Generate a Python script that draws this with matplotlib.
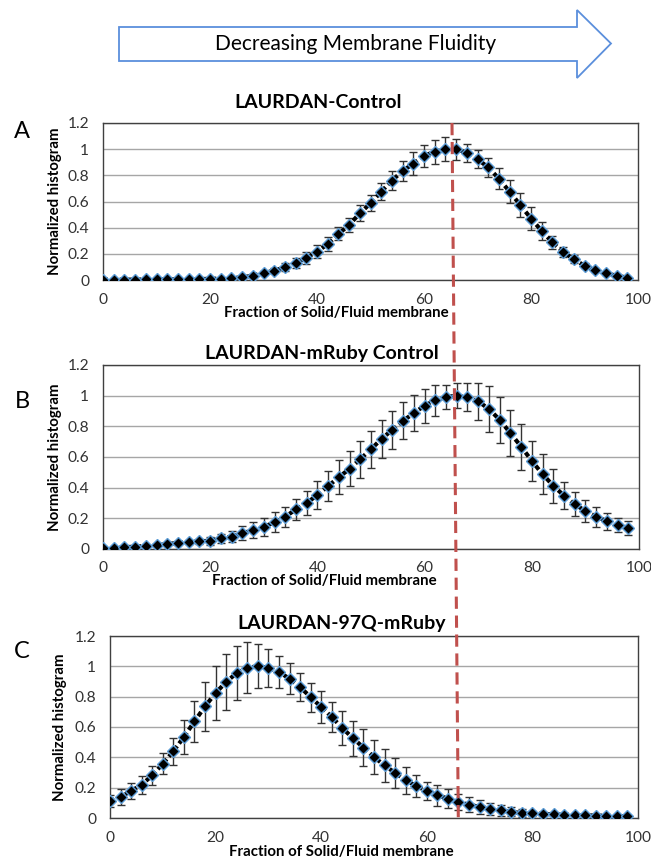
import matplotlib
matplotlib.use("Agg")
import matplotlib.pyplot as plt
from matplotlib.patches import Polygon
from matplotlib.lines import Line2D

plt.rcParams['font.family'] = ['Lato', 'DejaVu Sans']

# x positions (fraction of solid/fluid membrane)
fraction = list(range(0, 100, 2))

# A: LAURDAN-Control
control = [0.003, 0.003, 0.003, 0.003, 0.004, 0.004, 0.005, 0.005, 0.006, 0.007,
           0.009, 0.011, 0.015, 0.02, 0.033, 0.056, 0.071, 0.097, 0.128, 0.17,
           0.216, 0.275, 0.352, 0.42, 0.51, 0.586, 0.675, 0.76, 0.833, 0.89,
           0.95, 0.98, 1.0, 1.0, 0.973, 0.925, 0.86, 0.775, 0.675, 0.573,
           0.47, 0.375, 0.288, 0.216, 0.158, 0.11, 0.074, 0.051, 0.033, 0.018]
control_err = [0.003, 0.003, 0.003, 0.003, 0.003, 0.003, 0.004, 0.004, 0.005, 0.005,
               0.006, 0.007, 0.008, 0.01, 0.012, 0.015, 0.02, 0.03, 0.04, 0.045,
               0.05, 0.055, 0.05, 0.055, 0.06, 0.06, 0.065, 0.07, 0.08, 0.085,
               0.085, 0.09, 0.09, 0.08, 0.07, 0.07, 0.07, 0.08, 0.09, 0.09,
               0.09, 0.07, 0.05, 0.04, 0.03, 0.02, 0.015, 0.01, 0.01, 0.008]

# B: LAURDAN-mRuby Control
mruby = [0.005, 0.008, 0.012, 0.015, 0.02, 0.025, 0.032, 0.04, 0.047, 0.05,
         0.054, 0.069, 0.08, 0.102, 0.124, 0.145, 0.174, 0.21, 0.259, 0.30,
         0.352, 0.41, 0.468, 0.523, 0.586, 0.651, 0.719, 0.778, 0.836, 0.887,
         0.935, 0.97, 0.991, 1.0, 0.99, 0.963, 0.913, 0.843, 0.756, 0.668,
         0.575, 0.488, 0.413, 0.348, 0.292, 0.248, 0.211, 0.182, 0.156, 0.135]
mruby_err = [0.004, 0.004, 0.005, 0.005, 0.006, 0.007, 0.008, 0.01, 0.012, 0.015,
             0.025, 0.03, 0.035, 0.045, 0.055, 0.06, 0.065, 0.065, 0.07, 0.08,
             0.09, 0.1, 0.11, 0.115, 0.12, 0.12, 0.125, 0.125, 0.12, 0.12,
             0.11, 0.1, 0.08, 0.08, 0.09, 0.12, 0.15, 0.15, 0.15, 0.15,
             0.13, 0.13, 0.11, 0.09, 0.08, 0.07, 0.065, 0.055, 0.045, 0.045]

# C: LAURDAN-97Q-mRuby
q97 = [0.11, 0.139, 0.178, 0.22, 0.281, 0.358, 0.44, 0.534, 0.637, 0.736,
       0.824, 0.897, 0.956, 0.991, 1.0, 0.991, 0.962, 0.919, 0.863, 0.797,
       0.732, 0.666, 0.593, 0.527, 0.464, 0.402, 0.347, 0.297, 0.249, 0.211,
       0.178, 0.15, 0.128, 0.105, 0.088, 0.073, 0.062, 0.051, 0.04, 0.033,
       0.03, 0.027, 0.024, 0.022, 0.02, 0.018, 0.016, 0.015, 0.013, 0.012]
q97_err = [0.04, 0.05, 0.055, 0.06, 0.065, 0.07, 0.09, 0.11, 0.135, 0.16,
           0.175, 0.185, 0.18, 0.17, 0.145, 0.125, 0.105, 0.1, 0.09, 0.095,
           0.105, 0.1, 0.11, 0.115, 0.12, 0.115, 0.11, 0.1, 0.09, 0.075,
           0.06, 0.07, 0.065, 0.055, 0.05, 0.045, 0.04, 0.035, 0.03, 0.025,
           0.015, 0.012, 0.01, 0.01, 0.008, 0.007, 0.006, 0.006, 0.005, 0.005]

titles = ["LAURDAN-Control", "LAURDAN-mRuby Control", "LAURDAN-97Q-mRuby"]
letters = ["A", "B", "C"]
yticks = [0, 0.2, 0.4, 0.6, 0.8, 1.0, 1.2]
yticklabels = ["0", "0.2", "0.4", "0.6", "0.8", "1", "1.2"]
xticks = [0, 20, 40, 60, 80, 100]

W, H = 651, 860
fig = plt.figure(figsize=(W / 100, H / 100), dpi=100)


def px_rect(left, top, right, bottom):
    return [left / W, 1 - bottom / H, (right - left) / W, (bottom - top) / H]


# axes boxes in pixels (left, top, right, bottom)
boxes = [(103, 123, 638, 280), (103, 365, 639, 549), (110, 636, 638, 818)]
title_pos = [(318, 103), (322, 353), (342, 624)]
letter_pos = [(22, 131), (22, 402), (22, 652)]
xlabel_pos = [(336, 313), (324, 581), (341, 852)]
ylabel_x = [55, 55, 60]
series = [(control, control_err), (mruby, mruby_err), (q97, q97_err)]

tick_color = "#333333"
for i in range(3):
    box = boxes[i]
    ax = fig.add_axes(px_rect(*box))
    vals, errs = series[i]
    ax.errorbar(fraction, vals, yerr=errs, fmt='none', ecolor='#333333',
                elinewidth=1, capsize=3, capthick=1, zorder=2)
    ax.plot(fraction, vals, color='black', linestyle=(0, (1.2, 0.8)), linewidth=3, zorder=3)
    ax.plot(fraction, vals, linestyle='none', marker='D', markersize=6.3,
            markerfacecolor='black', markeredgecolor='#5B9BD5', markeredgewidth=1, zorder=4)
    ax.set_xlim(0, 100)
    ax.set_ylim(0, 1.2)
    ax.set_xticks(xticks)
    ax.set_yticks(yticks)
    ax.set_yticklabels(yticklabels)
    ax.tick_params(length=0, labelsize=11.2, colors=tick_color)
    ax.tick_params(axis='x', pad=9)
    ax.tick_params(axis='y', pad=10)
    ax.yaxis.grid(True, color='#a6a6a6', linewidth=1)
    ax.set_axisbelow(True)
    for s in ax.spines.values():
        s.set_color('#404040')
        s.set_linewidth(1)
    bw = box[2] - box[0]
    bh = box[3] - box[1]
    ax.set_xlabel("Fraction of Solid/Fluid membrane", fontsize=10.8, fontweight='bold')
    ax.xaxis.set_label_coords((xlabel_pos[i][0] - box[0]) / bw,
                              (box[3] - xlabel_pos[i][1]) / bh)
    ax.xaxis.label.set_va('center')
    ax.set_ylabel("Normalized histogram", fontsize=10.8, fontweight='bold')
    ax.yaxis.set_label_coords((ylabel_x[i] - box[0]) / bw, 0.5)
    ax.yaxis.label.set_va('center')
    fig.text(title_pos[i][0] / W, 1 - title_pos[i][1] / H, titles[i], fontsize=14,
             fontweight='bold', ha='center', va='center')
    fig.text(letter_pos[i][0] / W, 1 - letter_pos[i][1] / H, letters[i], fontsize=17,
             ha='center', va='center')

# arrow at the top
arrow_px = [(119, 27), (577, 27), (577, 10), (611, 43.5), (577, 78),
            (577, 61), (119, 61)]
arrow = Polygon([(x / W, 1 - y / H) for x, y in arrow_px], closed=True,
                transform=fig.transFigure, facecolor='white', edgecolor='#5B8FDC',
                linewidth=1.3)
fig.patches.append(arrow)
fig.text(356 / W, 1 - 44 / H, "Decreasing Membrane Fluidity", fontsize=15,
         ha='center', va='center')

# red dashed reference line through all panels
red = Line2D([452 / W, 458.3 / W], [1 - 123 / H, 1 - 818 / H], transform=fig.transFigure,
             color='#C0504D', linewidth=2.2, linestyle=(0, (4, 2.2)), zorder=10)
fig.lines.append(red)

fig.savefig("out.png", dpi=100)
